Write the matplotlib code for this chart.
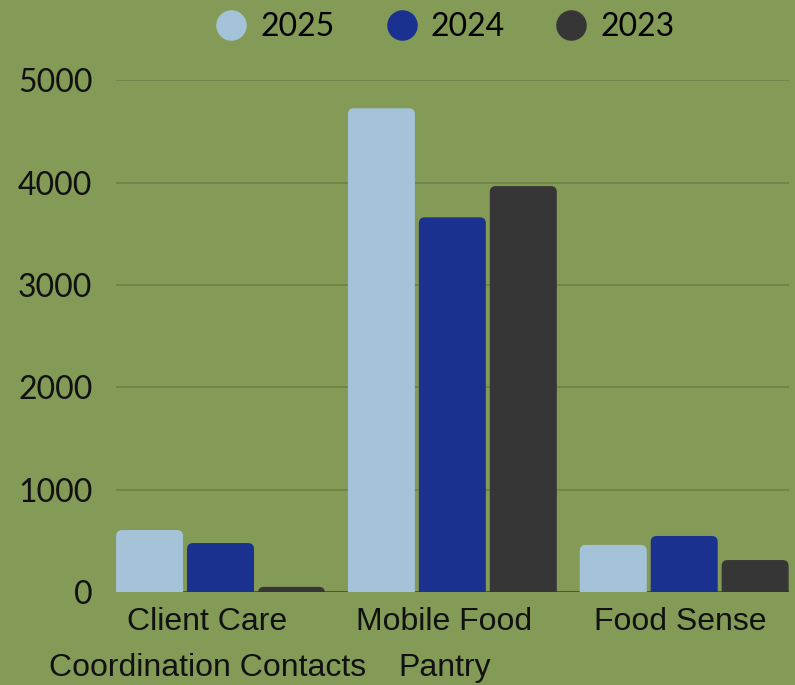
import matplotlib.pyplot as plt
import numpy as np
from matplotlib.patches import FancyBboxPatch
from matplotlib.lines import Line2D
from matplotlib.transforms import ScaledTranslation

categories = ["Client Care\nCoordination Contacts", "Mobile Food\nPantry", "Food Sense"]
years = ["2025", "2024", "2023"]
vals_2025 = [605, 4725, 460]
vals_2024 = [478, 3660, 547]
vals_2023 = [50, 3965, 312]
colors = ["#a4c2d8", "#1b318f", "#363636"]

bg = "#849a57"

fig = plt.figure(figsize=(7.95, 6.85), dpi=100, facecolor=bg)
ax = fig.add_axes([0.146, 0.1358, 0.846, 0.7472])
ax.set_facecolor(bg)

x = np.arange(len(categories))
width = 0.289
step = 0.306
series = [vals_2025, vals_2024, vals_2023]

ax.set_xlim(-step - width / 2, 2 + step + width / 2)
ax.set_ylim(0, 5000)

# corner radius of about 6 px in data units
px_x = (ax.get_xlim()[1] - ax.get_xlim()[0]) / (0.846 * 795)
px_y = 5000 / (0.7472 * 685)
rx, ry = 6 * px_x, 6 * px_y

for i, vals in enumerate(series):
    bars = ax.bar(x + (i - 1) * step, vals, width, color=colors[i])
    for r in bars:
        r.set_visible(False)
        p = FancyBboxPatch((r.get_x(), -ry), r.get_width(), r.get_height() + ry,
                           boxstyle=f"round,pad=0,rounding_size={rx}",
                           mutation_aspect=ry / rx, facecolor=colors[i],
                           edgecolor="none", zorder=3)
        ax.add_patch(p)

ax.set_yticks([0, 1000, 2000, 3000, 4000, 5000])
ax.yaxis.grid(True, color="#6b7f47", linewidth=1.1)
ax.set_axisbelow(True)
ax.axhline(0, color="#4a4a4a", linewidth=1.2, zorder=2)
for s in ax.spines.values():
    s.set_visible(False)
ax.tick_params(axis="y", length=0, pad=17, labelsize=23, labelcolor="#111111")
for t in ax.get_yticklabels():
    t.set_fontfamily("Lato")

ax.set_xticks(x)
ax.set_xticklabels(categories, fontsize=23, family="Liberation Sans",
                   linespacing=1.68, color="#111111")
ax.tick_params(axis="x", length=0, pad=11)
# small nudges of the category labels (pixels)
shifts = [-13, -8, -4]
for lab, dx in zip(ax.get_xticklabels(), shifts):
    lab.set_transform(lab.get_transform() + ScaledTranslation(dx / 100, 0, fig.dpi_scale_trans))

handles = [Line2D([], [], marker="o", linestyle="none", markersize=22,
                  markerfacecolor=c, markeredgecolor="none") for c in colors]
ax.legend(handles, years, loc="center", bbox_to_anchor=(0.487, 1.103), ncol=3,
          frameon=False, prop={"family": "Lato", "size": 23},
          handletextpad=0.32, columnspacing=1.48, handlelength=1.2)

fig.savefig("out.png", dpi=100, facecolor=bg)
